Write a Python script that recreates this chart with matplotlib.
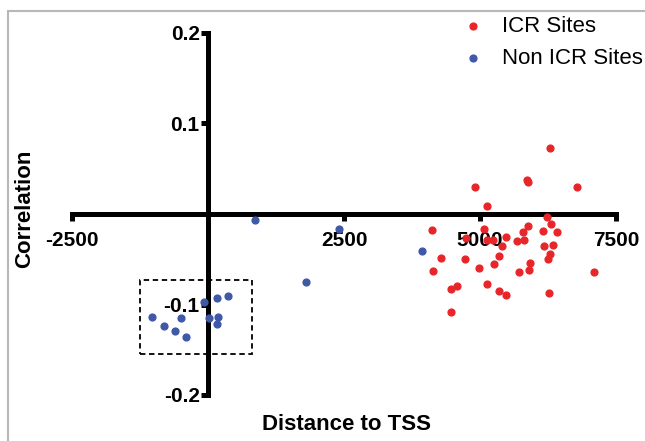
import matplotlib
matplotlib.use("Agg")
import matplotlib.pyplot as plt
from matplotlib.patches import Rectangle

plt.rcParams['font.family'] = ['Liberation Sans', 'DejaVu Sans']

# ICR sites (red)
icr_x = [6293, 4908, 5858, 5876, 6777, 5134, 6237, 6305, 4112, 5074,
         5876, 5790, 6152, 6409, 4743, 5134, 5244, 5472, 5684, 5814,
         5398, 6182, 6347, 4277, 4730, 5349, 6287, 6254, 4142, 4982,
         5257, 5914, 5717, 5895, 7096, 4467, 4583, 5122, 5349, 5472,
         6274, 4467]
icr_y = [0.0726, 0.0302, 0.0376, 0.0354, 0.0295, 0.0092, -0.0036, -0.0107, -0.0173, -0.0166,
         -0.0129, -0.0196, -0.0188, -0.0202, -0.0262, -0.0287, -0.0287, -0.0251, -0.0295, -0.0287,
         -0.035, -0.035, -0.0346, -0.0483, -0.05, -0.046, -0.0442, -0.0494, -0.063, -0.0593,
         -0.055, -0.0538, -0.064, -0.0615, -0.0644, -0.0825, -0.0796, -0.077, -0.085, -0.0892,
         -0.0873, -0.1086]

# non ICR sites (blue)
non_x = [864, 2414, 1801, -68, 160, 362, -1029, -491, 18, 184, 171, -803, -607, -410, 3928]
non_y = [-0.0066, -0.0162, -0.0748, -0.0976, -0.0925, -0.091, -0.1135, -0.115, -0.115,
         -0.1135, -0.122, -0.124, -0.129, -0.136, -0.0406]

x_ticks = [-2500, 2500, 5000, 7500]
y_ticks = [-0.2, -0.1, 0.1, 0.2]

red = '#e8262a'
blue = '#3f58a8'

fig = plt.figure(figsize=(6.45, 4.41), dpi=100)
ax = fig.add_axes([72/645, 1 - 395/441, 544/645, 362/441])

ax.scatter(icr_x, icr_y, s=24, color=red, label='ICR Sites', clip_on=False, zorder=3)
ax.scatter(non_x, non_y, s=24, color=blue, label='Non ICR Sites', clip_on=False, zorder=3)

ax.set_xlim(-2500, 7500)
ax.set_ylim(-0.2, 0.2)

for side in ['top', 'right']:
    ax.spines[side].set_visible(False)
ax.spines['left'].set_position(('data', 0))
ax.spines['bottom'].set_position(('data', 0))
ax.spines['left'].set_linewidth(3.6)
ax.spines['bottom'].set_linewidth(3.6)

ax.set_xticks(x_ticks)
ax.set_xticklabels([str(t) for t in x_ticks])
ax.set_yticks(y_ticks)
ax.set_yticklabels(['-0.2', '-0.1', '0.1', '0.2'])
ax.tick_params(axis='both', direction='out', length=5, width=3.6, labelsize=15)
ax.tick_params(axis='x', pad=7)
ax.tick_params(axis='y', pad=1)
for lab in ax.get_xticklabels() + ax.get_yticklabels():
    lab.set_fontweight('bold')

# dashed box round the cluster near the TSS
ax.add_patch(Rectangle((-1250, -0.155), 2060, 0.082, fill=False, ls=(0, (3, 2)),
                       lw=1.3, color='black', zorder=2))

fig.text(25/645, 1 - 209/441, 'Correlation', rotation=90, ha='center', va='center',
         fontsize=16, fontweight='bold')
fig.text(346/645, 1 - 425/441, 'Distance to TSS', ha='center', va='center',
         fontsize=16, fontweight='bold')

leg = ax.legend(loc='upper left', bbox_to_anchor=(453/645, 1 - 7/441),
                bbox_transform=fig.transFigure, frameon=False, fontsize=16,
                handlelength=1.0, handletextpad=0.8, labelspacing=0.5, borderaxespad=0)

# light grey frame round the figure
fig.add_artist(Rectangle((8/645, -0.1), 1.2, 1.1 - 11/441, transform=fig.transFigure,
                         fill=False, ec='#b8b8b8', lw=1.5))

fig.savefig('out.png', dpi=100)
